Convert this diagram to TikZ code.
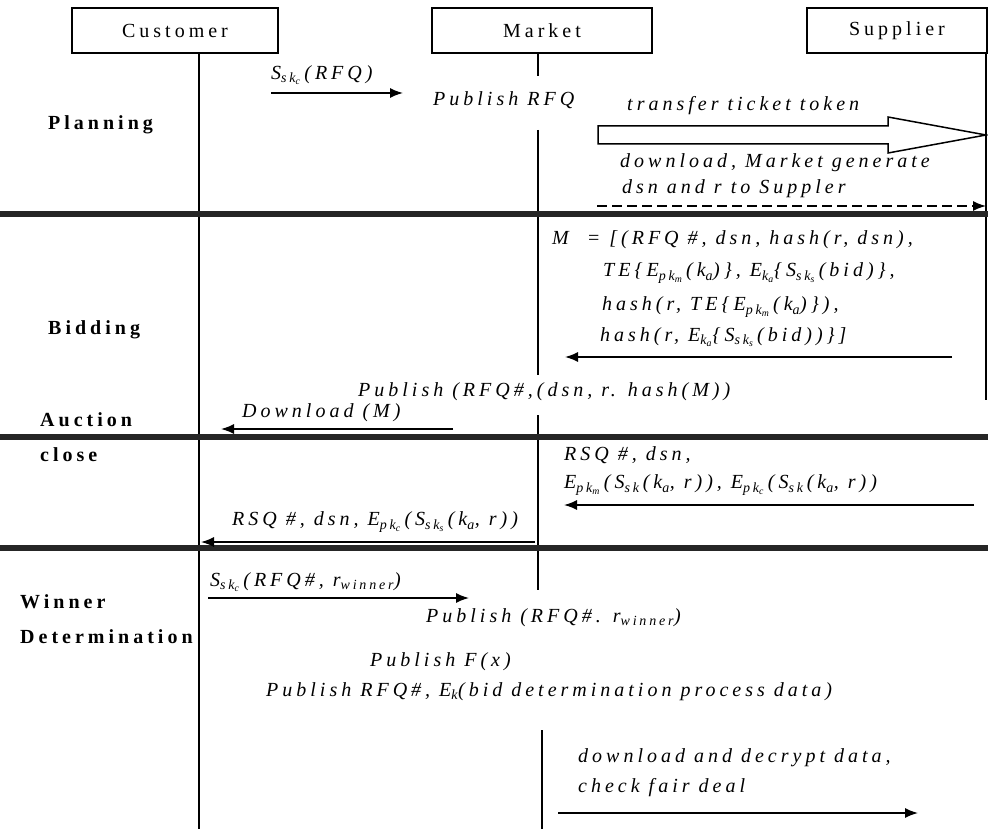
\documentclass[tikz,border=0pt]{standalone}
\usepackage{fontspec}
\setmainfont{Liberation Serif}[LetterSpace=20]
\usepackage{tikz}
\usetikzlibrary{arrows.meta}

\newcommand{\sbs}[1]{\textsubscript{#1}}

\tikzset{
	actor/.style={draw, line width=1.2pt, minimum height=45pt, inner sep=0pt, font=\fontsize{20}{22}\selectfont},
	phase/.style={anchor=west, inner sep=0pt, font=\fontsize{20}{22}\selectfont\bfseries},
	msg/.style={anchor=west, inner sep=0pt, font=\fontsize{20}{22}\selectfont\itshape},
	life/.style={line width=1.2pt},
	divider/.style={line width=5.5pt, black!85},
	call/.style={line width=1.5pt, -{Latex[length=13pt,width=10pt]}}
}

\begin{document}
\begin{tikzpicture}[x=1pt,y=-1pt]
		\useasboundingbox (0,0) rectangle (988,829);
		%
		\node[actor, minimum width=206pt] (Cust) at (175,30.5) {Customer};
		\node[actor, minimum width=220pt] (Mark) at (542,30.5) {Market};
		\node[actor, minimum width=180pt] (Supp) at (897,30.5) {Supplier};
		%
		\coordinate (c0) at (199,53);  \coordinate (c1) at (199,829);
		\coordinate (m0) at (538,53);  \coordinate (m1) at (538,76);
		\coordinate (m2) at (538,130); \coordinate (m3) at (538,375);
		\coordinate (m4) at (538,415); \coordinate (m5) at (538,590);
		\coordinate (m6) at (542,730); \coordinate (m7) at (542,829);
		\coordinate (s0) at (986,53);  \coordinate (s1) at (986,400);
		\path[life] (c0) edge (c1) (m0) edge (m1) (m2) edge (m3)
		(m4) edge (m5) (m6) edge (m7) (s0) edge (s1);
		%
		\coordinate (d1a) at (0,214); \coordinate (d1b) at (988,214);
		\coordinate (d2a) at (0,437); \coordinate (d2b) at (988,437);
		\coordinate (d3a) at (0,548); \coordinate (d3b) at (988,548);
		\path[divider] (d1a) edge (d1b) (d2a) edge (d2b) (d3a) edge (d3b);
		%
		\node[phase] (Plan) at (48,125) {Planning};
		\node[phase] (Bid) at (48,330) {Bidding};
		\node[phase] (Auc) at (40,420) {Auction};
		\node[phase] (Clo) at (40,455) {close};
		\node[phase] (Win) at (20,602) {Winner};
		\node[phase] (Det) at (20,637) {Determination};
		%
		% planning
		\node[msg] (rfq) at (271,75) {S\sbs{sk\sbs{c}}\,(RFQ)};
		\coordinate (rfqa) at (271,93); \coordinate (rfqb) at (403,93);
		\node[msg] (pubrfq) at (433,100) {Publish RFQ};
		\node[msg] (tok) at (627,106) {transfer ticket token};
		\coordinate (toka) at (598,135); \coordinate (tokb) at (986,135);
		\draw[line width=1.5pt, line join=miter] (598,126) -- (888,126) -- (888,117) -- (tokb)
		-- (888,153) -- (888,144) -- (598,144) -- cycle;
		\node[msg] (gen1) at (620,163) {download, Market generate};
		\node[msg] (gen2) at (622,189) {dsn and r to Suppler};
		\coordinate (gena) at (597,206); \coordinate (genb) at (986,206);
		\path[call] (rfqa) edge (rfqb);
		\path[call, dash pattern=on 10pt off 5pt] (gena) edge (genb);
		%
		% bidding
		\node[msg] (M1) at (552,240) {M\ \ = [(RFQ \#, dsn, hash(r, dsn),};
		\node[msg] (M2) at (603,273) {TE\{E\sbs{pk\sbs{m}}\,(k\sbs{a})\}, E\sbs{k\sbs{a}}\{S\sbs{sk\sbs{s}}\,(bid)\},};
		\node[msg] (M3) at (602,307) {hash(r, TE\{E\sbs{pk\sbs{m}}\,(k\sbs{a})\}),};
		\node[msg] (M4) at (600,337) {hash(r, E\sbs{k\sbs{a}}\{S\sbs{sk\sbs{s}}\,(bid))\}]};
		\coordinate (Ma) at (952,357); \coordinate (Mb) at (565,357);
		\node[msg] (pubM) at (358,392) {Publish (RFQ\#,(dsn, r. hash(M))};
		\node[msg] (dlM) at (242,413) {Download (M)};
		\coordinate (dla) at (453,429); \coordinate (dlb) at (221,429);
		\path[call] (Ma) edge (Mb) (dla) edge (dlb);
		%
		% auction close
		\node[msg] (rsq1) at (564,455) {RSQ \#, dsn,};
		\node[msg] (rsq2) at (564,485) {E\sbs{pk\sbs{m}}\,(S\sbs{sk}\,(k\sbs{a}, r)), E\sbs{pk\sbs{c}}\,(S\sbs{sk}\,(k\sbs{a}, r))};
		\coordinate (rsqa) at (974,505); \coordinate (rsqb) at (564,505);
		\node[msg] (rsq3) at (232,522) {RSQ \#, dsn, E\sbs{pk\sbs{c}}\,(S\sbs{sk\sbs{s}}\,(k\sbs{a}, r))};
		\coordinate (rsqc) at (535,542); \coordinate (rsqd) at (201,542);
		\path[call] (rsqa) edge (rsqb) (rsqc) edge (rsqd);
		%
		% winner determination
		\node[msg] (sw) at (210,582) {S\sbs{sk\sbs{c}}\,(RFQ\#, r\sbs{winner})};
		\coordinate (swa) at (208,598); \coordinate (swb) at (469,598);
		\node[msg] (pw) at (426,618) {Publish (RFQ\#. r\sbs{winner})};
		\node[msg] (pf) at (370,662) {Publish F(x)};
		\node[msg] (pe) at (266,692) {Publish RFQ\#, E\sbs{k}(bid determination process data)};
		\node[msg] (ck1) at (578,758) {download and decrypt data,};
		\node[msg] (ck2) at (578,788) {check fair deal};
		\coordinate (cka) at (558,813); \coordinate (ckb) at (918,813);
		\path[call] (swa) edge (swb) (cka) edge (ckb);
\end{tikzpicture}
\end{document}
